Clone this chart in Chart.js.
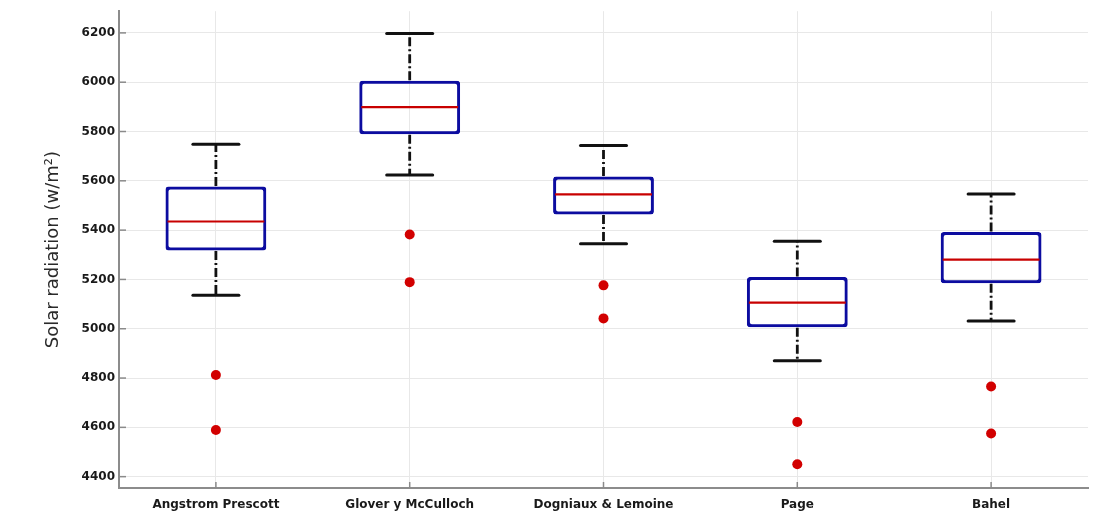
<!DOCTYPE html>
<html>
<head>
<meta charset="utf-8">
<script src="https://cdn.jsdelivr.net/npm/chart.js@4/dist/chart.umd.min.js"></script>
<style>
  html, body { margin: 0; padding: 0; background: #ffffff; }
  #wrap { width: 1097px; height: 521px; }
</style>
</head>
<body>
<div id="wrap"><canvas id="c" width="1097" height="521"></canvas></div>
<script>
const categories = ['Angstrom Prescott', 'Glover y McCulloch', 'Dogniaux & Lemoine', 'Page', 'Bahel'];
const whiskerLow  = [5136, 5624, 5345, 4870, 5031];
const q1          = [5321, 5793, 5467, 5010, 5189];
const median      = [5435, 5899, 5545, 5106, 5280];
const q3          = [5573, 6002, 5613, 5206, 5388];
const whiskerHigh = [5748, 6198, 5743, 5355, 5547];
const outliers    = [[4812, 4589], [5382, 5189], [5176, 5042], [4622, 4450], [4766, 4575]];
const yTicks      = [4400, 4600, 4800, 5000, 5200, 5400, 5600, 5800, 6000, 6200];
const yTitle      = 'Solar radiation (w/m\u00B2)';

const outlierPoints = [];
outliers.forEach((arr, i) => arr.forEach(v => outlierPoints.push({ x: categories[i], y: v })));

const boxParts = {
  id: 'boxParts',
  afterDatasetsDraw(chart) {
    const ctx = chart.ctx, ys = chart.scales.y;
    const meta = chart.getDatasetMeta(0);
    ctx.save();
    categories.forEach((c, i) => {
      const bar = meta.data[i];
      const cx = bar.x, hw = bar.width / 2;
      const line = (x1, y1, x2, y2) => { ctx.beginPath(); ctx.moveTo(x1, y1); ctx.lineTo(x2, y2); ctx.stroke(); };
      // whiskers (dash-dot)
      ctx.strokeStyle = '#111111';
      ctx.lineWidth = 2.8;
      ctx.lineCap = 'butt';
      ctx.setLineDash([9, 3, 2, 3]);
      line(cx, ys.getPixelForValue(q3[i]) - 1.5, cx, ys.getPixelForValue(whiskerHigh[i]));
      line(cx, ys.getPixelForValue(q1[i]) + 1.5, cx, ys.getPixelForValue(whiskerLow[i]));
      ctx.setLineDash([]);
      // caps
      ctx.lineWidth = 3;
      ctx.lineCap = 'round';
      const capHalf = 23;
      line(cx - capHalf, ys.getPixelForValue(whiskerHigh[i]), cx + capHalf, ys.getPixelForValue(whiskerHigh[i]));
      line(cx - capHalf, ys.getPixelForValue(whiskerLow[i]), cx + capHalf, ys.getPixelForValue(whiskerLow[i]));
      // median
      ctx.strokeStyle = '#c80000';
      ctx.lineWidth = 2.2;
      ctx.lineCap = 'butt';
      line(cx - hw + 1, ys.getPixelForValue(median[i]), cx + hw - 1, ys.getPixelForValue(median[i]));
    });
    ctx.restore();
  },
  afterDraw(chart) {
    const ctx = chart.ctx, a = chart.chartArea, xs = chart.scales.x, ys = chart.scales.y;
    ctx.save();
    ctx.strokeStyle = '#8a8a8a';
    ctx.lineWidth = 1.5;
    yTicks.forEach(v => {
      const py = ys.getPixelForValue(v);
      ctx.beginPath(); ctx.moveTo(a.left, py); ctx.lineTo(a.left + 7, py); ctx.stroke();
    });
    categories.forEach((c, i) => {
      const px = xs.getPixelForValue(i);
      ctx.beginPath(); ctx.moveTo(px, a.bottom); ctx.lineTo(px, a.bottom - 6); ctx.stroke();
    });
    ctx.restore();
  }
};

new Chart(document.getElementById('c'), {
  data: {
    labels: categories,
    datasets: [
      {
        type: 'bar',
        data: categories.map((c, i) => [q1[i], q3[i]]),
        backgroundColor: 'rgba(0,0,0,0)',
        borderColor: '#0c0ca0',
        borderWidth: 1,
        borderSkipped: false,
        borderRadius: 3,
        inflateAmount: 1,
        barPercentage: 0.51,
        categoryPercentage: 1
      },
      {
        type: 'line',
        data: outlierPoints,
        showLine: false,
        pointStyle: 'circle',
        pointRadius: 5,
        pointBackgroundColor: '#d20000',
        pointBorderColor: '#d20000',
        pointBorderWidth: 0
      }
    ]
  },
  options: {
    responsive: false,
    animation: false,
    layout: { padding: { left: 0, right: 9, top: 10, bottom: 0 } },
    plugins: { legend: { display: false }, tooltip: { enabled: false } },
    scales: {
      x: {
        type: 'category',
        offset: true,
        afterFit(s) { s.height = 33; },
        grid: { offset: false, color: '#e8e8e8', lineWidth: 1, drawTicks: false },
        border: { color: '#8c8c8c', width: 2 },
        ticks: { color: '#1a1a1a', padding: 10, font: { family: 'DejaVu Sans', size: 12, weight: 'bold' }, maxRotation: 0 }
      },
      y: {
        type: 'linear',
        min: 4354,
        max: 6288,
        afterBuildTicks(s) { s.ticks = yTicks.map(v => ({ value: v })); },
        afterFit(s) { s.width = 119; },
        grid: { color: '#e8e8e8', lineWidth: 1, drawTicks: false },
        border: { color: '#8c8c8c', width: 2 },
        ticks: {
          color: '#1a1a1a',
          padding: 4,
          font: { family: 'DejaVu Sans', size: 12, weight: 'bold' },
          callback: (v) => String(v)
        },
        title: {
          display: true,
          text: yTitle,
          color: '#2a2a2a',
          padding: { top: 43, bottom: 0 },
          font: { family: 'DejaVu Sans', size: 18, weight: 'normal' }
        }
      }
    }
  },
  plugins: [boxParts]
});
</script>
</body>
</html>
